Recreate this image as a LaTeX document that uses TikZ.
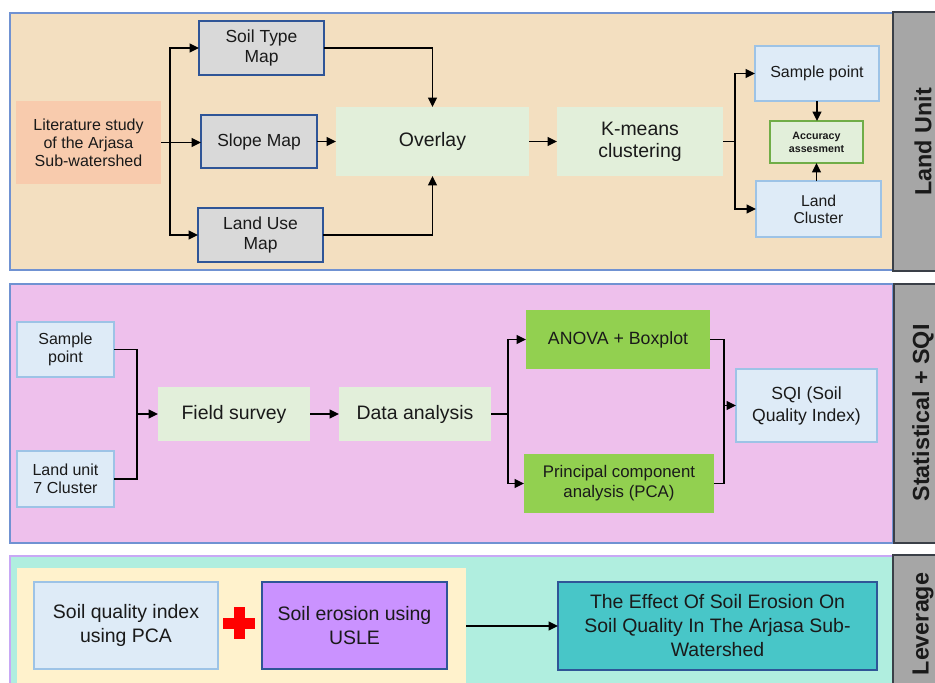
\documentclass[tikz,border=0pt]{standalone}
\usepackage{fontspec}
\setmainfont{Liberation Sans}
\usetikzlibrary{arrows.meta,calc}
\definecolor{topbg}{RGB}{243,223,192}
\definecolor{midbg}{RGB}{238,192,236}
\definecolor{botbg}{RGB}{176,238,223}
\definecolor{panelblue}{RGB}{112,146,210}
\definecolor{lav}{RGB}{200,168,245}
\definecolor{barg}{RGB}{166,166,166}
\definecolor{bardark}{RGB}{58,63,71}
\definecolor{peach}{RGB}{248,203,173}
\definecolor{grayb}{RGB}{217,217,217}
\definecolor{dblue}{RGB}{47,85,151}
\definecolor{lgreen}{RGB}{226,239,218}
\definecolor{lblue}{RGB}{222,235,247}
\definecolor{lbborder}{RGB}{157,195,230}
\definecolor{gborder}{RGB}{112,173,71}
\definecolor{agreen}{RGB}{146,208,80}
\definecolor{yel}{RGB}{255,242,204}
\definecolor{purp}{RGB}{202,146,255}
\definecolor{teal2}{RGB}{72,198,200}
\definecolor{txt}{RGB}{26,26,26}
\newcommand\fsz[2]{\fontsize{#1pt}{#2pt}\selectfont}
\newcommand\bx[7]{\node[box,#6,minimum width={(#4-#2)*0.75pt},minimum height={(#5-#3)*0.75pt}] (#1) at ({(#2+#4)/2},{(#3+#5)/2}) {#7};}
\begin{document}
\begin{tikzpicture}[x=0.75pt,y=-0.75pt,
  box/.style={rectangle,inner sep=0pt,outer sep=0pt,align=center,text=txt},
  panel/.style={line width=0.9pt},
  graybox/.style={fill=grayb,draw=dblue,line width=1.1pt,font=\fsz{13.1}{15.6}},
  greenbox/.style={fill=lgreen,font=\fsz{14.6}{16.3}},
  bluebox/.style={fill=lblue,draw=lbborder,line width=1.1pt},
  sidelabel/.style={rotate=90,font=\bfseries\fsz{17.5}{20},text=txt,inner sep=0pt},
  conn/.style={line width=1.2pt,draw=black},
  arr/.style={conn,-{Triangle[length=7pt,width=6.5pt]}},
]
\useasboundingbox (0,0) rectangle (935,682);
% panels
\bx{p1}{10}{13}{893}{270}{panel,draw=panelblue,fill=topbg}{}
\bx{p2}{10}{284}{893}{543}{panel,draw=panelblue,fill=midbg}{}
\bx{p3}{10}{556}{893}{700}{panel,draw=lav,fill=botbg}{}
% side bars
\bx{g1}{893}{12}{945}{271}{draw=bardark,line width=1pt,fill=barg}{}
\bx{g2}{894}{284}{945}{543}{draw=bardark,line width=1pt,fill=barg}{}
\bx{g3}{893}{555}{945}{700}{draw=bardark,line width=1pt,fill=barg}{}
\node[sidelabel] (l1) at (923,142) {Land Unit};
\node[sidelabel] (l2) at (923,413) {Statistical + SQI};
\node[sidelabel] (l3) at (923,624) {Leverage};
% top panel
\bx{lit}{16}{101}{161}{184}{fill=peach,font=\fsz{12}{13.6}}{Literature study\\of the Arjasa\\Sub-watershed}
\bx{soil}{199}{21}{324}{75}{graybox}{Soil Type\\Map}
\bx{slope}{201}{115}{317}{168}{graybox}{Slope Map}
\bx{landuse}{198}{208}{323}{262}{graybox}{Land Use\\Map}
\bx{overlay}{336}{107}{529}{176}{greenbox}{Overlay}
\bx{kmeans}{557}{107}{723}{176}{greenbox}{K-means\\clustering}
\bx{sample}{755}{46}{879}{101}{bluebox,font=\fsz{12}{14}}{Sample point}
\bx{acc}{770}{121}{863}{163}{fill=lgreen,draw=gborder,line width=0.9pt,font=\bfseries\fsz{8}{9.6}}{Accuracy\\assesment}
\bx{cluster}{756}{181}{881}{237}{bluebox,font=\fsz{11.8}{12.8}}{Land\\Cluster}
\coordinate (j1) at (170,142.5);
\draw[conn] (lit.east) -- (j1);
\draw[arr] (j1) |- (soil.west);
\draw[arr] (j1) -- (slope.west |- j1);
\draw[arr] (j1) |- (landuse.west);
\draw[arr] (soil.east) -| (overlay.north);
\draw[arr] (landuse.east) -| (overlay.south);
\draw[arr] (slope.east) -- (overlay.west);
\draw[arr] (overlay.east) -- (kmeans.west);
\coordinate (j2) at (735,141.5);
\draw[conn] (kmeans.east) -- (j2);
\draw[arr] (j2) |- (sample.west);
\draw[arr] (j2) |- (cluster.west);
\draw[arr] (sample.south) -- (sample.south |- acc.north);
\draw[arr] (cluster.north -| acc.south) -- (acc.south);
% middle panel
\bx{sp2}{17}{322}{114}{377}{bluebox,font=\fsz{12}{13.8}}{Sample\\point}
\bx{lu}{17}{451}{114}{507}{bluebox,font=\fsz{12}{13.8}}{Land unit\\7 Cluster}
\bx{field}{158}{387}{310}{441}{greenbox}{Field survey}
\bx{data}{339}{387}{491}{441}{greenbox}{Data analysis}
\bx{anova}{526}{310}{710}{369}{fill=agreen,font=\fsz{13.3}{15}}{ANOVA + Boxplot}
\bx{pca}{524}{454}{714}{513}{fill=agreen,font=\fsz{12.6}{15}}{Principal component\\analysis (PCA)}
\bx{sqi}{736}{369}{877}{442}{bluebox,font=\fsz{13.2}{16.5}}{SQI (Soil\\Quality Index)}
\coordinate (j3) at (137,414);
\draw[conn] (sp2.east) -| (j3);
\draw[conn] (lu.east) -| (j3);
\draw[arr] (j3) -- (field.west);
\draw[arr] (field.east) -- (data.west);
\coordinate (j4) at (508,414);
\draw[conn] (data.east) -- (j4);
\draw[arr] (j4) |- (anova.west);
\draw[arr] (j4) |- (pca.west);
\coordinate (j5) at (724,405.5);
\draw[conn] (anova.east) -| (j5);
\draw[conn] (pca.east) -| (j5);
\draw[arr] (j5) -- (sqi.west);
% bottom panel
\bx{yel}{17}{568}{466}{700}{fill=yel}{}
\bx{sqipca}{34}{582}{218}{669}{bluebox,font=\fsz{14.6}{17.5}}{Soil quality index\\using PCA}
\bx{usle}{262}{582}{447}{669}{fill=purp,draw=dblue,line width=1.1pt,font=\fsz{14.6}{17.5}}{Soil erosion using\\USLE}
\bx{effect}{558}{582}{877}{670}{fill=teal2,draw=dblue,line width=1.1pt,font=\fsz{14.6}{18}}{The Effect Of Soil Erosion On\\Soil Quality In The Arjasa Sub-\\Watershed}
\fill[red] (223,618) rectangle (255,628.5);
\fill[red] (234.3,607) rectangle (245,638.5);
\draw[arr] (yel.east |- effect.west) -- (effect.west);
\end{tikzpicture}
\end{document}
